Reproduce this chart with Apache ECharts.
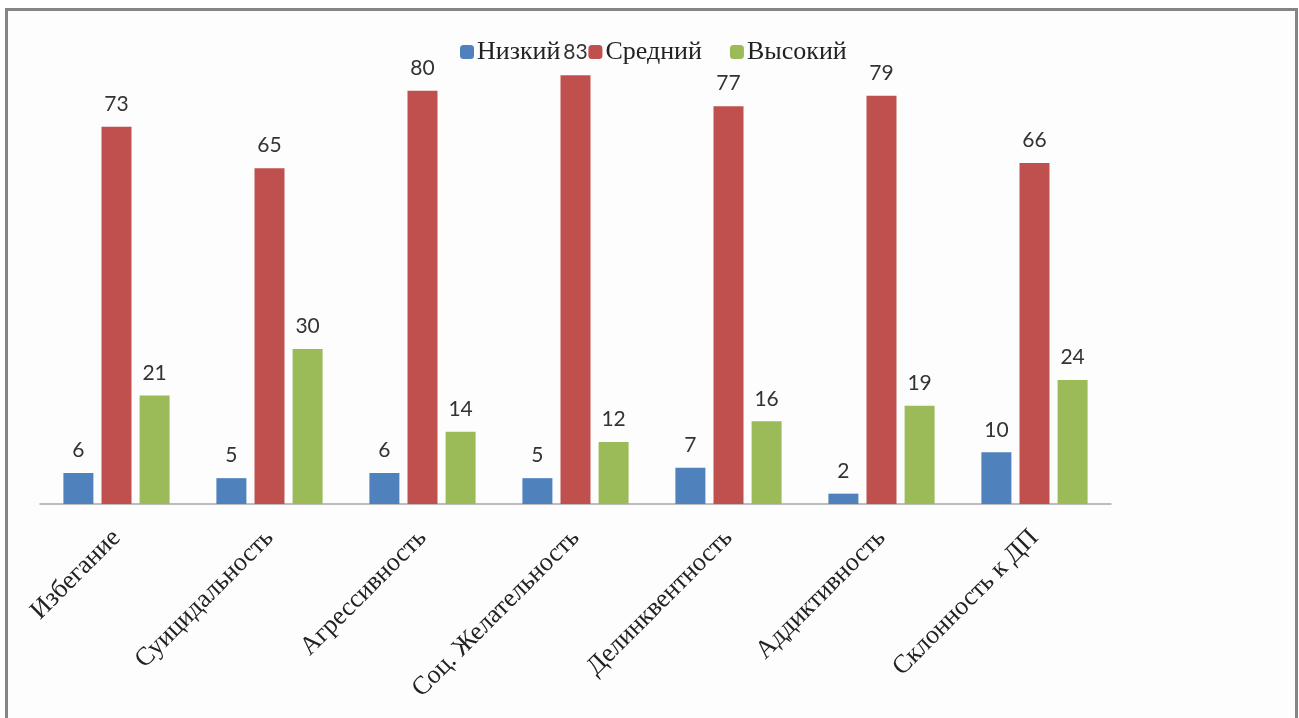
<!DOCTYPE html>
<html><head><meta charset="utf-8">
<script src="https://cdn.jsdelivr.net/npm/echarts@6/dist/echarts.min.js"></script>
<style>html,body{margin:0;padding:0;background:#fff}#c{width:1299px;height:718px}</style>
</head><body><div id="c"></div>
<script>
const categories = ['Избегание','Суицидальность','Агрессивность','Соц. Желательность','Делинквентность','Аддиктивность','Склонность к ДП'];
const seriesNames = ['Низкий','Средний','Высокий'];
const low = [6,5,6,5,7,2,10];
const mid = [73,65,80,83,77,79,66];
const high = [21,30,14,12,16,19,24];
const colors = ['#4f81bd','#c0504d','#9bbb59'];

const chart = echarts.init(document.getElementById('c'));
const labelStyle = {show:true, position:'top', distance:12, fontFamily:'Lato, "Open Sans", sans-serif', fontSize:21, color:'#333'};
chart.setOption({
  animation:false,
  graphic:[{type:'rect', z:-10, shape:{x:6.5,y:9.5,width:1290,height:720}, style:{fill:'#fdfdfd', stroke:'#858585', lineWidth:3}}],
  legend:{left:455, top:34, itemWidth:14, itemHeight:14, itemGap:28,
    textStyle:{fontFamily:'"Liberation Serif", serif', fontSize:26, color:'#222', padding:[0,0,0,-2]},
    data:seriesNames},
  grid:{left:40, right:188, top:39, bottom:214},
  xAxis:{type:'category', data:categories,
    axisLine:{lineStyle:{color:'#a6a6a6', width:1.5}}, axisTick:{show:false},
    axisLabel:{rotate:45, interval:0, margin:30, fontFamily:'"Liberation Serif", serif', fontSize:26, color:'#222'}},
  yAxis:{type:'value', min:0, max:90, show:false, splitLine:{show:false}},
  series:[
    {name:seriesNames[0], type:'bar', data:low, barWidth:30, barGap:'27%', itemStyle:{color:colors[0]}, label:labelStyle},
    {name:seriesNames[1], type:'bar', data:mid, barWidth:30, barGap:'27%', itemStyle:{color:colors[1]}, label:labelStyle},
    {name:seriesNames[2], type:'bar', data:high, barWidth:30, barGap:'27%', itemStyle:{color:colors[2]}, label:labelStyle}
  ]
});
</script></body></html>
